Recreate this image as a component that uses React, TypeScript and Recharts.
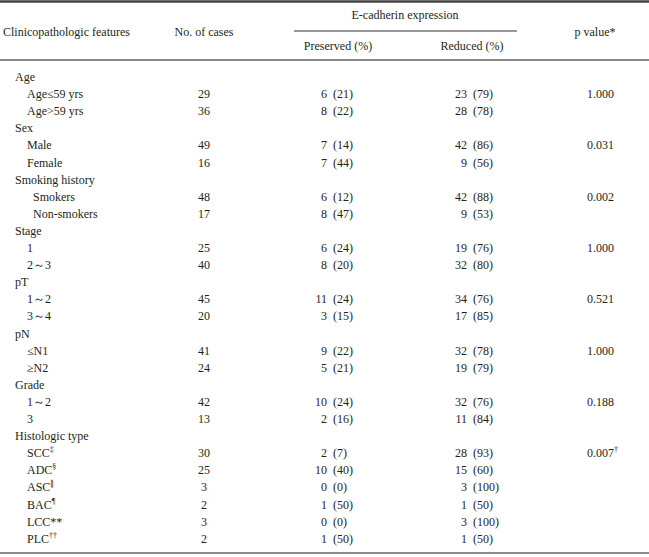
import { ScatterChart, Scatter, XAxis, YAxis, ReferenceLine } from 'recharts'

const groupLabels = ['Age', 'Sex', 'Smoking history', 'Stage', 'pT', 'pN', 'Grade', 'Histologic type']
const subLabels = [
  ['Age≤59 yrs', 'Age>59 yrs'],
  ['Male', 'Female'],
  ['Smokers', 'Non-smokers'],
  ['1', '2～3'],
  ['1～2', '3～4'],
  ['≤N1', '≥N2'],
  ['1～2', '3'],
  ['SCC', 'ADC', 'ASC', 'BAC', 'LCC**', 'PLC'],
]
const subMarks = [[], [], [], [], [], [], [], ['‡', '§', '∥', '¶', '', '††']]
const cases = [[29, 36], [49, 16], [48, 17], [25, 40], [45, 20], [41, 24], [42, 13], [30, 25, 3, 2, 3, 2]]
const preservedN = [[6, 8], [7, 7], [6, 8], [6, 8], [11, 3], [9, 5], [10, 2], [2, 10, 0, 1, 0, 1]]
const preservedPct = [[21, 22], [14, 44], [12, 47], [24, 20], [24, 15], [22, 21], [24, 16], [7, 40, 0, 50, 0, 50]]
const reducedN = [[23, 28], [42, 9], [42, 9], [19, 32], [34, 17], [32, 19], [32, 11], [28, 15, 3, 1, 3, 1]]
const reducedPct = [[79, 78], [86, 56], [88, 53], [76, 80], [76, 85], [78, 79], [76, 84], [93, 60, 100, 50, 100, 50]]
const pValues = ['1.000', '0.031', '0.002', '1.000', '0.521', '1.000', '0.188', '0.007']
const pMarks = ['', '', '', '', '', '', '', '†']

// layout
const W = 649
const H = 557
const FIRST = 81 // baseline of first body row, px
const STEP = 17.1 // row pitch, px
const yOf = (px: number) => (px - FIRST) / STEP
const COL = { group: 15, sub: 27, subDeep: 33, cases: 204, pres: 330, red: 470, p: 587 }
const FONT = '"Liberation Serif", "Times New Roman", serif'
const INK = '#231f20'

type Row = {
  y: number
  label: string
  mark: string
  group: boolean
  deep: boolean
  cases?: number
  pn?: number
  pp?: number
  rn?: number
  rp?: number
  p: string
  pMark: string
}

const rows: Row[] = []
groupLabels.forEach((g, gi) => {
  rows.push({ y: rows.length, label: g, mark: '', group: true, deep: false, p: '', pMark: '' })
  subLabels[gi].forEach((s, si) => {
    rows.push({
      y: rows.length,
      label: s,
      mark: subMarks[gi][si] ?? '',
      group: false,
      deep: g === 'Smoking history',
      cases: cases[gi][si],
      pn: preservedN[gi][si],
      pp: preservedPct[gi][si],
      rn: reducedN[gi][si],
      rp: reducedPct[gi][si],
      p: si === 0 ? pValues[gi] : '',
      pMark: si === 0 ? pMarks[gi] : '',
    })
  })
})
const body = rows.filter((r) => !r.group)

const headers = [
  { x: 3, y: yOf(36), text: 'Clinicopathologic features', anchor: 'start' },
  { x: COL.cases, y: yOf(36), text: 'No. of cases', anchor: 'middle' },
  { x: 405, y: yOf(19), text: 'E-cadherin expression', anchor: 'middle' },
  { x: 338, y: yOf(50), text: 'Preserved (%)', anchor: 'middle' },
  { x: 472, y: yOf(50), text: 'Reduced (%)', anchor: 'middle' },
  { x: 595, y: yOf(36), text: 'p value*', anchor: 'middle' },
]

const txt = { fontFamily: FONT, fontSize: 12, fill: INK }

const Sup = ({ m }: { m: string }) =>
  m ? (
    <tspan dy={-5} fontSize={8}>
      {m}
    </tspan>
  ) : null

export default function App() {
  return (
    <div style={{ position: 'absolute', left: 0, top: 0, background: '#fff' }}>
      <ScatterChart width={W} height={H} margin={{ top: 0, right: 0, bottom: 0, left: 0 }}>
        <XAxis type="number" dataKey="x" domain={[0, W]} hide allowDataOverflow />
        <YAxis type="number" dataKey="y" domain={[yOf(0), yOf(H)]} reversed hide allowDataOverflow />
        <ReferenceLine y={yOf(1.5)} stroke="#444" strokeWidth={2.5} />
        <ReferenceLine
          segment={[{ x: 294, y: yOf(31) }, { x: 517, y: yOf(31) }]}
          stroke="#333"
          strokeWidth={1}
        />
        <ReferenceLine y={yOf(60)} stroke="#8a8a8a" strokeWidth={2} />
        <ReferenceLine y={yOf(553)} stroke="#8a8a8a" strokeWidth={2} />

        <Scatter
          data={headers}
          isAnimationActive={false}
          shape={(p: any) => (
            <text x={p.cx} y={p.cy} textAnchor={p.payload.anchor} {...txt}>
              {p.payload.text}
            </text>
          )}
        />
        <Scatter
          data={rows.map((r) => ({ ...r, x: r.group ? COL.group : r.deep ? COL.subDeep : COL.sub }))}
          isAnimationActive={false}
          shape={(p: any) => (
            <text x={p.cx} y={p.cy} textAnchor="start" {...txt}>
              {p.payload.label}
              <Sup m={p.payload.mark} />
            </text>
          )}
        />
        <Scatter
          data={body.map((r) => ({ ...r, x: COL.cases }))}
          isAnimationActive={false}
          shape={(p: any) => (
            <text x={p.cx} y={p.cy} textAnchor="middle" {...txt}>
              {p.payload.cases}
            </text>
          )}
        />
        <Scatter
          data={body.map((r) => ({ ...r, x: COL.pres }))}
          isAnimationActive={false}
          shape={(p: any) => (
            <g>
              <text x={p.cx - 3} y={p.cy} textAnchor="end" {...txt}>
                {p.payload.pn}
              </text>
              <text x={p.cx + 3} y={p.cy} textAnchor="start" {...txt}>
                ({p.payload.pp})
              </text>
            </g>
          )}
        />
        <Scatter
          data={body.map((r) => ({ ...r, x: COL.red }))}
          isAnimationActive={false}
          shape={(p: any) => (
            <g>
              <text x={p.cx - 3} y={p.cy} textAnchor="end" {...txt}>
                {p.payload.rn}
              </text>
              <text x={p.cx + 3} y={p.cy} textAnchor="start" {...txt}>
                ({p.payload.rp})
              </text>
            </g>
          )}
        />
        <Scatter
          data={body.filter((r) => r.p).map((r) => ({ ...r, x: COL.p }))}
          isAnimationActive={false}
          shape={(p: any) => (
            <text x={p.cx} y={p.cy} textAnchor="start" {...txt}>
              {p.payload.p}
              <Sup m={p.payload.pMark} />
            </text>
          )}
        />
      </ScatterChart>
    </div>
  )
}
